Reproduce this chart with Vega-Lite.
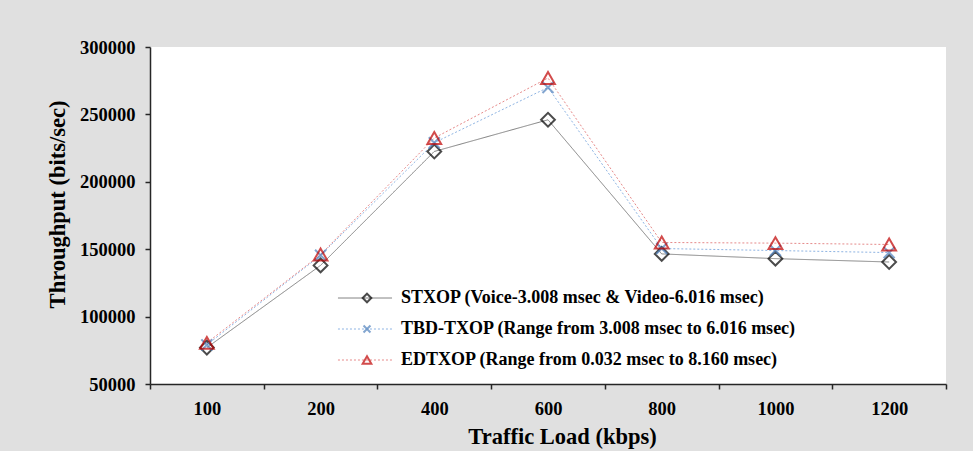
{
  "$schema": "https://vega.github.io/schema/vega-lite/v6.json",
  "width": 796,
  "height": 337,
  "autosize": {"type": "none"},
  "padding": {"left": 150, "top": 47, "right": 27, "bottom": 67},
  "background": "#e0e0e0",
  "config": {
    "font": "Liberation Serif",
    "view": {"fill": "white", "stroke": null},
    "axis": {
      "labelFont": "Liberation Serif",
      "labelFontWeight": "bold",
      "labelFontSize": 18.5,
      "labelColor": "#000000",
      "titleFont": "Liberation Serif",
      "titleFontWeight": "bold",
      "titleFontSize": 22.5,
      "titleColor": "#000000",
      "domainColor": "#262626",
      "domainWidth": 1.5,
      "tickColor": "#262626",
      "tickWidth": 1.5,
      "tickSize": 5,
      "grid": false
    },
    "legend": {
      "labelFont": "Liberation Serif",
      "labelFontWeight": "bold",
      "labelFontSize": 18,
      "labelColor": "#000000",
      "labelLimit": 0,
      "padding": 0
    }
  },
  "data": {
    "values": [
      {"load": 100, "series": "STXOP (Voice-3.008 msec & Video-6.016 msec)", "key": "STXOP", "throughput": 77000},
      {"load": 200, "series": "STXOP (Voice-3.008 msec & Video-6.016 msec)", "key": "STXOP", "throughput": 138000},
      {"load": 400, "series": "STXOP (Voice-3.008 msec & Video-6.016 msec)", "key": "STXOP", "throughput": 222500},
      {"load": 600, "series": "STXOP (Voice-3.008 msec & Video-6.016 msec)", "key": "STXOP", "throughput": 246000},
      {"load": 800, "series": "STXOP (Voice-3.008 msec & Video-6.016 msec)", "key": "STXOP", "throughput": 146500},
      {"load": 1000, "series": "STXOP (Voice-3.008 msec & Video-6.016 msec)", "key": "STXOP", "throughput": 143000},
      {"load": 1200, "series": "STXOP (Voice-3.008 msec & Video-6.016 msec)", "key": "STXOP", "throughput": 140500},
      {"load": 100, "series": "TBD-TXOP (Range from 3.008 msec to 6.016 msec)", "key": "TBD-TXOP", "throughput": 79000},
      {"load": 200, "series": "TBD-TXOP (Range from 3.008 msec to 6.016 msec)", "key": "TBD-TXOP", "throughput": 145500},
      {"load": 400, "series": "TBD-TXOP (Range from 3.008 msec to 6.016 msec)", "key": "TBD-TXOP", "throughput": 229000},
      {"load": 600, "series": "TBD-TXOP (Range from 3.008 msec to 6.016 msec)", "key": "TBD-TXOP", "throughput": 270000},
      {"load": 800, "series": "TBD-TXOP (Range from 3.008 msec to 6.016 msec)", "key": "TBD-TXOP", "throughput": 150500},
      {"load": 1000, "series": "TBD-TXOP (Range from 3.008 msec to 6.016 msec)", "key": "TBD-TXOP", "throughput": 149000},
      {"load": 1200, "series": "TBD-TXOP (Range from 3.008 msec to 6.016 msec)", "key": "TBD-TXOP", "throughput": 147500},
      {"load": 100, "series": "EDTXOP (Range from 0.032 msec to 8.160 msec)", "key": "EDTXOP", "throughput": 80500},
      {"load": 200, "series": "EDTXOP (Range from 0.032 msec to 8.160 msec)", "key": "EDTXOP", "throughput": 146000},
      {"load": 400, "series": "EDTXOP (Range from 0.032 msec to 8.160 msec)", "key": "EDTXOP", "throughput": 232500},
      {"load": 600, "series": "EDTXOP (Range from 0.032 msec to 8.160 msec)", "key": "EDTXOP", "throughput": 277000},
      {"load": 800, "series": "EDTXOP (Range from 0.032 msec to 8.160 msec)", "key": "EDTXOP", "throughput": 155000},
      {"load": 1000, "series": "EDTXOP (Range from 0.032 msec to 8.160 msec)", "key": "EDTXOP", "throughput": 154500},
      {"load": 1200, "series": "EDTXOP (Range from 0.032 msec to 8.160 msec)", "key": "EDTXOP", "throughput": 153500}
    ]
  },
  "encoding": {
    "x": {
      "field": "load",
      "type": "ordinal",
      "bandPosition": 0.5,
      "scale": {"type": "band", "paddingInner": 0, "paddingOuter": 0},
      "axis": {"title": "Traffic Load (kbps)", "labelAngle": 0, "tickBand": "extent", "labelPadding": 10, "titlePadding": 8, "titleX": 412}
    },
    "y": {
      "field": "throughput",
      "type": "quantitative",
      "scale": {"domain": [50000, 300000], "nice": false, "zero": false},
      "axis": {"title": "Throughput (bits/sec)", "values": [50000, 100000, 150000, 200000, 250000, 300000], "format": "d", "labelPadding": 10, "titlePadding": 10, "titleY": 157}
    }
  },
  "layer": [
    {
      "mark": {"type": "line", "strokeWidth": 1},
      "encoding": {
        "color": {
          "field": "series",
          "type": "nominal",
          "scale": {
            "domain": ["STXOP (Voice-3.008 msec & Video-6.016 msec)", "TBD-TXOP (Range from 3.008 msec to 6.016 msec)", "EDTXOP (Range from 0.032 msec to 8.160 msec)"],
            "range": ["#808080", "#8eb4e3", "#e68a8a"]
          },
          "legend": {
            "orient": "none", "legendX": 206, "legendY": 242, "title": null,
            "symbolType": "M-5,0L5,0", "symbolSize": 117, "symbolStrokeWidth": 1,
            "labelOffset": 27, "rowPadding": 13
          }
        },
        "strokeDash": {
          "field": "series",
          "type": "nominal",
          "scale": {
            "domain": ["STXOP (Voice-3.008 msec & Video-6.016 msec)", "TBD-TXOP (Range from 3.008 msec to 6.016 msec)", "EDTXOP (Range from 0.032 msec to 8.160 msec)"],
            "range": [[1, 0], [2, 2], [2, 2]]
          },
          "legend": {
            "orient": "none", "legendX": 206, "legendY": 242, "title": null,
            "symbolType": "M-5,0L5,0", "symbolSize": 117, "symbolStrokeWidth": 1,
            "labelOffset": 27, "rowPadding": 13
          }
        }
      }
    },
    {
      "mark": {"type": "point", "filled": false, "strokeWidth": 2, "size": 190},
      "encoding": {
        "shape": {
          "field": "key",
          "type": "nominal",
          "scale": {
            "domain": ["STXOP", "TBD-TXOP", "EDTXOP"],
            "range": ["diamond", "M-0.8,-0.8L0.8,0.8M-0.8,0.8L0.8,-0.8", "triangle-up"]
          },
          "legend": {
            "orient": "none", "legendX": 208, "legendY": 242, "title": null,
            "symbolSize": 75, "symbolStrokeWidth": 2, "symbolFillColor": "transparent",
            "labelExpr": "''", "rowPadding": 13
          }
        },
        "stroke": {
          "field": "key",
          "type": "nominal",
          "scale": {
            "domain": ["STXOP", "TBD-TXOP", "EDTXOP"],
            "range": ["#000000", "#4f81bd", "#c00000"]
          },
          "legend": {
            "orient": "none", "legendX": 208, "legendY": 242, "title": null,
            "symbolSize": 75, "symbolStrokeWidth": 2, "symbolFillColor": "transparent",
            "labelExpr": "''", "rowPadding": 13
          }
        }
      }
    }
  ]
}
